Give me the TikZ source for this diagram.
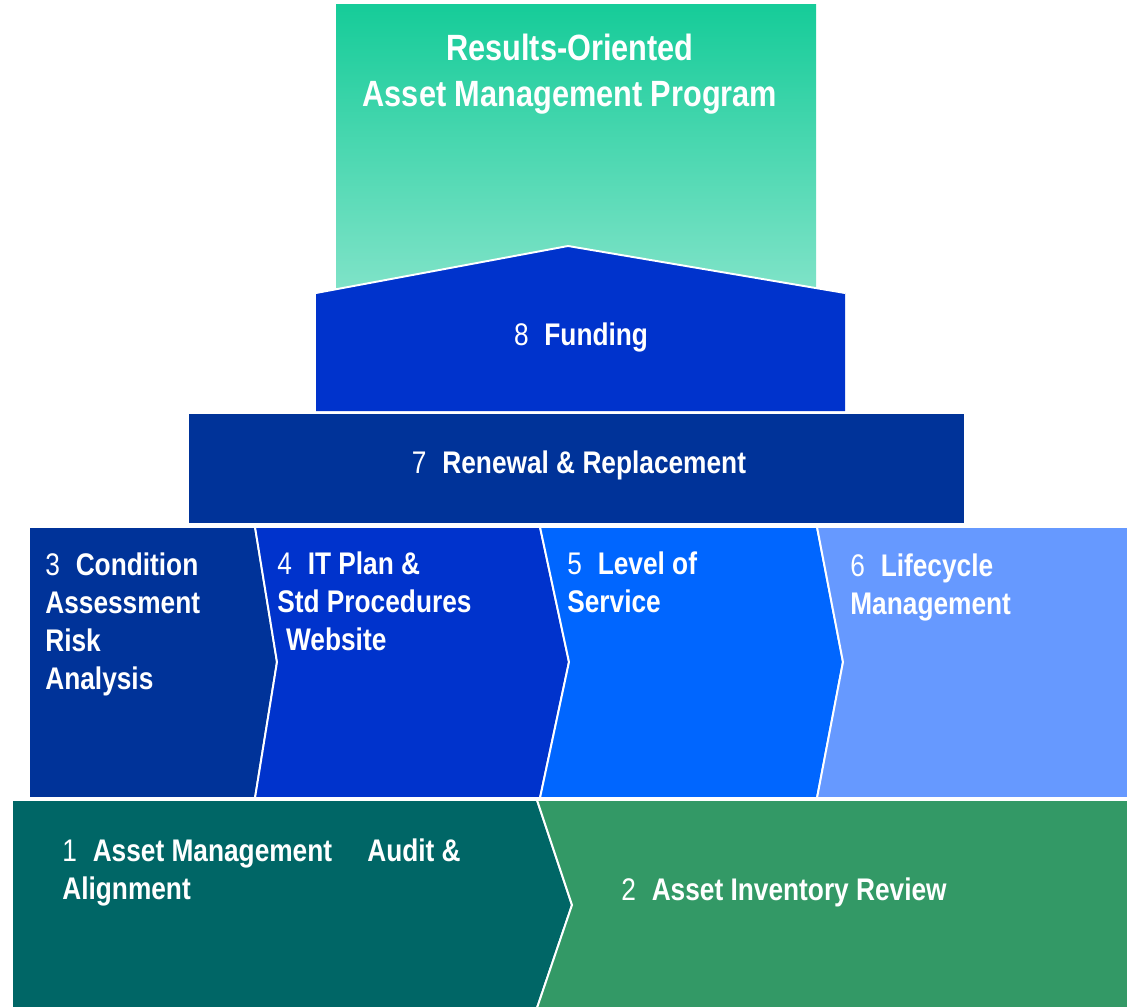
\documentclass[tikz,border=0pt]{standalone}
\usepackage{fontspec}
\setmainfont[FakeStretch=0.84]{Liberation Sans}
\definecolor{topgreen}{HTML}{16CC99}
\definecolor{palegreen}{HTML}{80E3C8}
\definecolor{navy}{HTML}{003399}
\definecolor{royal}{HTML}{0033CC}
\definecolor{azure}{HTML}{0066FF}
\definecolor{sky}{HTML}{6699FF}
\definecolor{teal}{HTML}{006666}
\definecolor{jade}{HTML}{339966}
\newcommand\numgap{\hspace{9pt}}
\tikzset{
  block/.style = {draw=white, line width=1.1pt},
  steplabel/.style = {
    text=white, font=\fontsize{17.8}{21.8}\selectfont,
    align=left, inner sep=0pt, anchor=north west
  },
  barlabel/.style = {
    text=white, font=\fontsize{17.8}{21.8}\selectfont,
    inner sep=0pt, anchor=base
  }
}

\begin{document}
\begin{tikzpicture}[x=0.02cm, y=-0.02cm]
  \useasboundingbox (0,0) rectangle (1127,1007);
  \shade[top color=topgreen, bottom color=palegreen] (336,5) rectangle (816,292);
  \fill[royal] (316,411) -- (316,293) -- (568,246) -- (845,293) -- (845,411) -- cycle;
  \draw[white, line width=1.1pt] (316,293) -- (568,246) -- (845,293);
  \fill[navy] (189,414) rectangle (964,523);
  \filldraw[block, fill=navy]  (29,527) -- (255,527) -- (277,662) -- (255,798) -- (29,798) -- cycle;
  \filldraw[block, fill=royal] (255,527) -- (540,527) -- (569,662) -- (540,798) -- (255,798) -- (277,662) -- cycle;
  \filldraw[block, fill=azure] (540,527) -- (817,527) -- (843,662) -- (817,798) -- (540,798) -- (569,662) -- cycle;
  \filldraw[block, fill=sky]   (817,527) -- (1128,527) -- (1128,798) -- (817,798) -- (843,662) -- cycle;
  \filldraw[block, fill=teal]  (12,800) -- (537,800) -- (572,905) -- (537,1008) -- (12,1008) -- cycle;
  \filldraw[block, fill=jade]  (537,800) -- (1128,800) -- (1128,1008) -- (537,1008) -- (572,905) -- cycle;

  \node[text=white, font=\fontsize{20.8}{26}\selectfont\bfseries, align=center, inner sep=0pt, anchor=north]
    (program) at (570,34) {Results-Oriented\\Asset Management Program};
  \node[barlabel] (funding) at (581,345) {8\numgap\textbf{Funding}};
  \node[barlabel] (renewal) at (579,473) {7\numgap\textbf{Renewal \& Replacement}};
  \node[steplabel] (condition) at (45,552) {3\numgap\textbf{Condition}\\\textbf{Assessment}\\\textbf{Risk}\\\textbf{Analysis}};
  \node[steplabel] (itplan) at (277,551) {4\numgap\textbf{IT Plan \&}\\\textbf{Std Procedures}\\\hspace*{5pt}\textbf{Website}};
  \node[steplabel] (service) at (567,551) {5\numgap\textbf{Level of}\\\textbf{Service}};
  \node[steplabel] (lifecycle) at (850,553) {6\numgap\textbf{Lifecycle}\\\textbf{Management}};
  \node[steplabel] (audit) at (62,838) {1\numgap\textbf{Asset Management}\hspace{20pt}\textbf{Audit \&}\\\textbf{Alignment}};
  \node[barlabel, anchor=base west] (inventory) at (621,900) {2\numgap\textbf{Asset Inventory Review}};
\end{tikzpicture}
\end{document}
